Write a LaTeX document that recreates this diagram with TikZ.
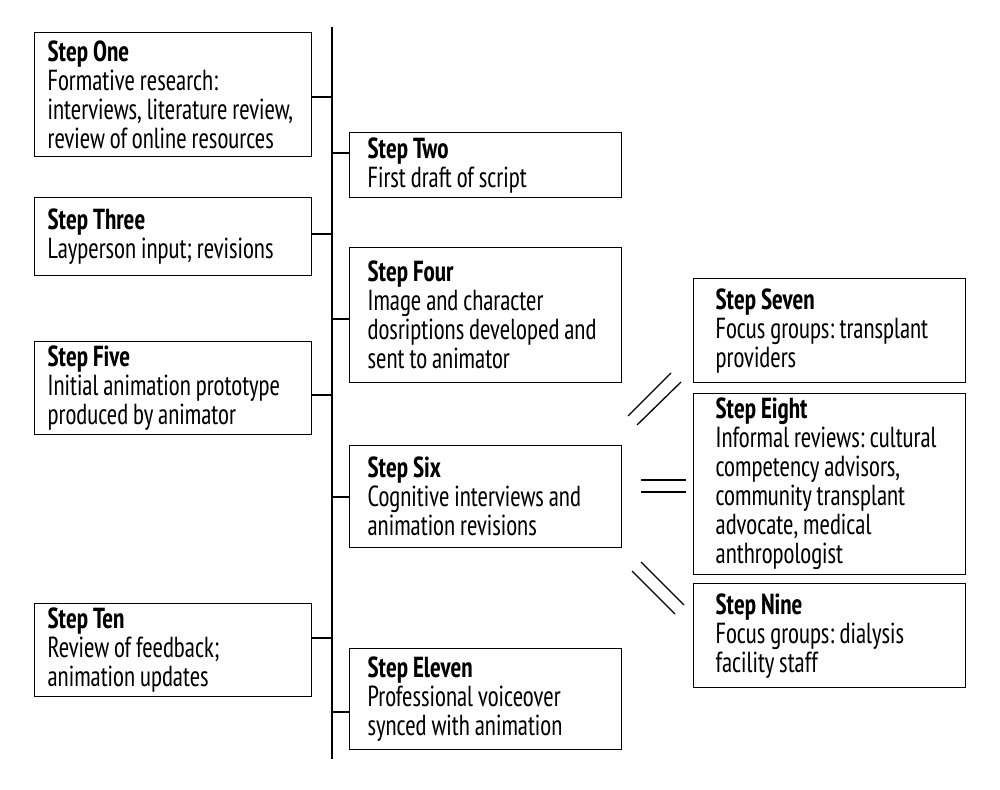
\documentclass[tikz,border=0pt]{standalone}
\usepackage{fontspec}
\setmainfont[FakeStretch=0.87]{PT Sans Narrow}
\newcommand\mytightspace{\spaceskip=0.17em plus 0.05em\relax}
\begin{document}
\frenchspacing
\begin{tikzpicture}[x=1pt,y=-1pt,
  box/.style={draw=black, line width=1.3pt, anchor=north west, align=left,
    inner ysep=0pt, font=\fontsize{29}{29}\selectfont,
    execute at begin node=\mytightspace},
  lcol/.style={box, inner xsep=13pt, text width=251pt},
  mcol/.style={box, inner xsep=18pt, text width=236pt},
  rcol/.style={box, inner xsep=22pt, text width=228pt},
  conn/.style={draw=black, line width=1.3pt},
  parmark/.style={draw=black, line width=1.3pt}]
\fill[white] (0,0) rectangle (1000,789);
\useasboundingbox (0,0) rectangle (1000,789);

% boxes
\node[lcol, minimum height=124pt] (one) at (34,32)
  {\textbf{Step One}\\Formative research:\\interviews, literature review,\\review of online resources};
\node[mcol, minimum height=65pt] (two) at (349,132)
  {\textbf{Step Two}\\First draft of script};
\node[lcol, minimum height=78pt] (three) at (34,197)
  {\textbf{Step Three}\\Layperson input; revisions};
\node[mcol, minimum height=135pt] (four) at (349,247)
  {\textbf{Step Four}\\Image and character\\dosriptions developed and\\sent to animator};
\node[lcol, minimum height=93pt] (five) at (34,341)
  {\textbf{Step Five}\\Initial animation prototype\\produced by animator};
\node[mcol, minimum height=102pt] (six) at (349,445)
  {\textbf{Step Six}\\Cognitive interviews and\\animation revisions};
\node[rcol, minimum height=104pt] (seven) at (693,278)
  {\textbf{Step Seven}\\Focus groups: transplant\\providers};
\node[rcol, minimum height=181pt] (eight) at (693,393)
  {\textbf{Step Eight}\\Informal reviews: cultural\\competency advisors,\\community transplant\\advocate, medical\\anthropologist};
\node[rcol, minimum height=104pt] (nine) at (693,583)
  {\textbf{Step Nine}\\Focus groups: dialysis\\facility staff};
\node[lcol, minimum height=93pt] (ten) at (34,603)
  {\textbf{Step Ten}\\Review of feedback;\\animation updates};
\node[mcol, minimum height=101pt] (eleven) at (349,648)
  {\textbf{Step Eleven}\\Professional voiceover\\synced with animation};

% spine
\coordinate (spT) at (332,27);
\coordinate (spB) at (332,759);
\draw[conn] (spT) -- (spB);

% junctions on the spine
\coordinate (j1) at (332,97);
\coordinate (j2) at (332,153);
\coordinate (j3) at (332,234);
\coordinate (j4) at (332,319);
\coordinate (j5) at (332,395);
\coordinate (j6) at (332,497);
\coordinate (j10) at (332,638);
\coordinate (j11) at (332,712);
\draw[conn] (one.east |- j1) -- (j1);
\draw[conn] (j2) -- (two.west |- j2);
\draw[conn] (three.east |- j3) -- (j3);
\draw[conn] (j4) -- (four.west |- j4);
\draw[conn] (five.east |- j5) -- (j5);
\draw[conn] (j6) -- (six.west |- j6);
\draw[conn] (ten.east |- j10) -- (j10);
\draw[conn] (j11) -- (eleven.west |- j11);

% parallel marks between Step Six and Steps Seven, Eight, Nine
\coordinate (a1) at (628,416); \coordinate (a2) at (671,373);
\coordinate (b1) at (637,425); \coordinate (b2) at (681,382);
\draw[parmark] (a1) -- (a2);
\draw[parmark] (b1) -- (b2);
\coordinate (c1) at (641,480); \coordinate (c2) at (686,480);
\coordinate (d1) at (641,492); \coordinate (d2) at (686,492);
\draw[parmark] (c1) -- (c2);
\draw[parmark] (d1) -- (d2);
\coordinate (e1) at (632,571); \coordinate (e2) at (675,614);
\coordinate (f1) at (641,562); \coordinate (f2) at (684,605);
\draw[parmark] (e1) -- (e2);
\draw[parmark] (f1) -- (f2);
\end{tikzpicture}
\end{document}
